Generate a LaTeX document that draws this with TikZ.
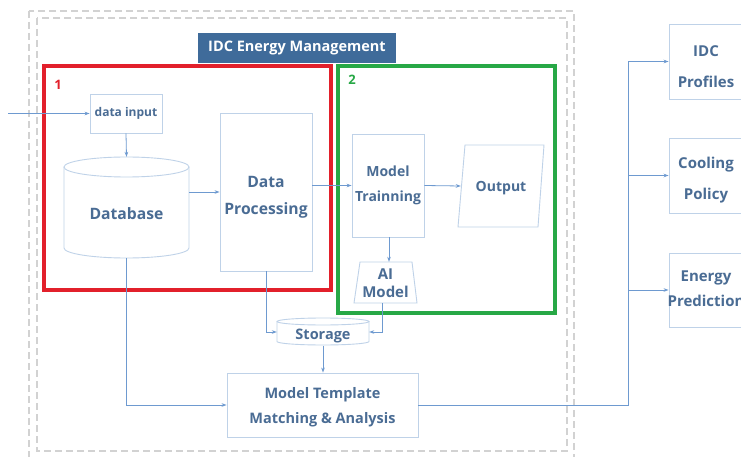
\documentclass[tikz,border=0pt]{standalone}
\usepackage{fontspec}
\setmainfont{Open Sans}
\usetikzlibrary{arrows.meta}
\definecolor{txt}{HTML}{4A6C94}
\definecolor{boxc}{HTML}{BFD2E8}
\definecolor{arrc}{HTML}{6E9AD0}
\definecolor{titlec}{HTML}{3F6B9A}
\definecolor{redc}{HTML}{E2202B}
\definecolor{greenc}{HTML}{27A846}
\definecolor{dashc}{HTML}{D2D2D2}
\begin{document}
\begin{tikzpicture}[x=1pt,y=-1pt,
  box/.style={draw=boxc,line width=0.9pt,rectangle,inner sep=0pt},
  lbl/.style={rectangle,inner sep=0pt,text=txt,align=center,font=\bfseries\fontsize{14.5}{25}\selectfont},
  ghost/.style={rectangle,inner sep=0pt},
  shapeline/.style={draw=boxc,line width=0.9pt},
  arr/.style={draw=arrc,line width=0.8pt,-{Stealth[length=5pt,width=3.6pt]}},
  frame/.style={draw=dashc,line width=1.2pt,dash pattern=on 7pt off 4pt},
  group/.style={line width=3.2pt}]
\useasboundingbox (0,0) rectangle (741,457);
\clip (0,0) rectangle (741,457);
\fill[white] (0,0) rectangle (741,457);
% dashed frames
\draw[frame] (29,11) rectangle (574,475);
\draw[frame] (37,18) rectangle (567,451);
% title
\node[fill=titlec,text=white,minimum width=198pt,minimum height=30pt,inner sep=0pt,font=\bfseries\fontsize{14.5}{16}\selectfont] (title) at (297,48) {IDC Energy Management};
% group boxes
\draw[group,draw=redc] (44,66) rectangle (331,290);
\draw[group,draw=greenc] (338,66) rectangle (555,313);
\node[text=redc,font=\bfseries\fontsize{13}{15}\selectfont] (g1) at (58,85) {1};
\node[text=greenc,font=\bfseries\fontsize{13}{15}\selectfont] (g2) at (352,80) {2};
% data input
\node[box,minimum width=72pt,minimum height=39pt] (di) at (126,113.5) {};
\node[lbl,font=\bfseries\fontsize{12}{14}\selectfont] (diT) at (di.center) {data input};
% database cylinder
\draw[shapeline] (64,167) -- (64,248) arc[start angle=180,end angle=0,x radius=62.5,y radius=10] -- (189,167);
\draw[shapeline] (126.5,167) ellipse[x radius=62.5,y radius=10];
\node[ghost,minimum width=125pt,minimum height=101pt] (db) at (126.5,207.5) {};
\node[lbl,font=\bfseries\fontsize{15.7}{18}\selectfont] (dbT) at ([yshift=-6pt]db.center) {Database};
% data processing
\node[box,minimum width=92pt,minimum height=158pt] (dp) at (266,192) {};
\node[lbl,font=\bfseries\fontsize{15.7}{27}\selectfont] (dpT) at ([yshift=-5.5pt]dp.center) {Data\\Processing};
% model training
\node[box,minimum width=72pt,minimum height=103pt] (mt) at (388,185.5) {};
\node[lbl,font=\bfseries\fontsize{14}{25}\selectfont] (mtT) at (mt.center) {Model\\Trainning};
% output parallelogram
\draw[shapeline] (465,145) -- (544,145) -- (538,227) -- (458,227) -- cycle;
\node[ghost,minimum width=80pt,minimum height=82pt] (out) at (501,186) {};
\node[lbl,font=\bfseries\fontsize{14}{16}\selectfont] (outT) at ([yshift=-2pt]out.center) {Output};
% AI model trapezoid
\draw[shapeline] (360,262) -- (412,262) -- (417,303) -- (354,303) -- cycle;
\node[ghost,minimum width=58pt,minimum height=41pt] (ai) at (385.5,282.5) {};
\node[lbl,font=\bfseries\fontsize{15}{18}\selectfont] (aiT) at ([yshift=-0.5pt]ai.center) {AI\\Model};
% storage cylinder
\draw[shapeline] (277,321.5) -- (277,341.5) arc[start angle=180,end angle=0,x radius=46,y radius=3.5] -- (369,321.5);
\draw[shapeline] (323,321.5) ellipse[x radius=46,y radius=3.5];
\node[ghost,minimum width=92pt,minimum height=27pt] (st) at (323,332) {};
\node[lbl] (stT) at ([yshift=-4pt]st.center) {Storage};
% model template
\node[box,minimum width=191pt,minimum height=64pt] (mtm) at (322.5,405) {};
\node[lbl] (mtmT) at ([yshift=-2.5pt]mtm.center) {Model Template\\Matching \& Analysis};
% right boxes
\node[box,minimum width=74pt,minimum height=75pt] (idc) at (706,61.5) {};
\node[lbl,font=\bfseries\fontsize{15}{31}\selectfont] (idcT) at ([yshift=-5pt]idc.center) {IDC\\Profiles};
\node[box,minimum width=74pt,minimum height=75pt] (cool) at (706,175.5) {};
\node[lbl,font=\bfseries\fontsize{15}{31}\selectfont] (coolT) at ([yshift=-5pt]cool.center) {Cooling\\Policy};
\node[box,minimum width=74pt,minimum height=74pt] (en) at (706,290) {};
\node[lbl,font=\bfseries\fontsize{15}{25}\selectfont] (enT) at ([yshift=1pt]en.center) {Energy\\Prediction};
% connectors
\coordinate (inp) at (8,113.5);
\draw[arr] (inp) -- (di.west);
\draw[arr] (di.south) -- (db.north);
\draw[arr] (db.east |- dp.west) -- (dp.west);
\draw[arr] (dp.east |- mt.west) -- (mt.west);
\draw[arr] (mt.east) -- (out.west);
\draw[arr] ([xshift=1pt]mt.south) -- ([xshift=1pt]mt.south |- ai.north);
\draw[arr] ([xshift=-3.5pt]ai.south) |- (st.east);
\draw[arr] (dp.south) |- (st.west);
\draw[arr] (st.south) -- (st.south |- mtm.north);
\draw[arr] (db.south) |- (mtm.west);
\coordinate (bus) at (628,405);
\draw[arr] (mtm.east) -- (bus) |- (idc.west);
\draw[arr] (bus) |- (cool.west);
\draw[arr] (bus) |- (en.west);
\end{tikzpicture}
\end{document}
